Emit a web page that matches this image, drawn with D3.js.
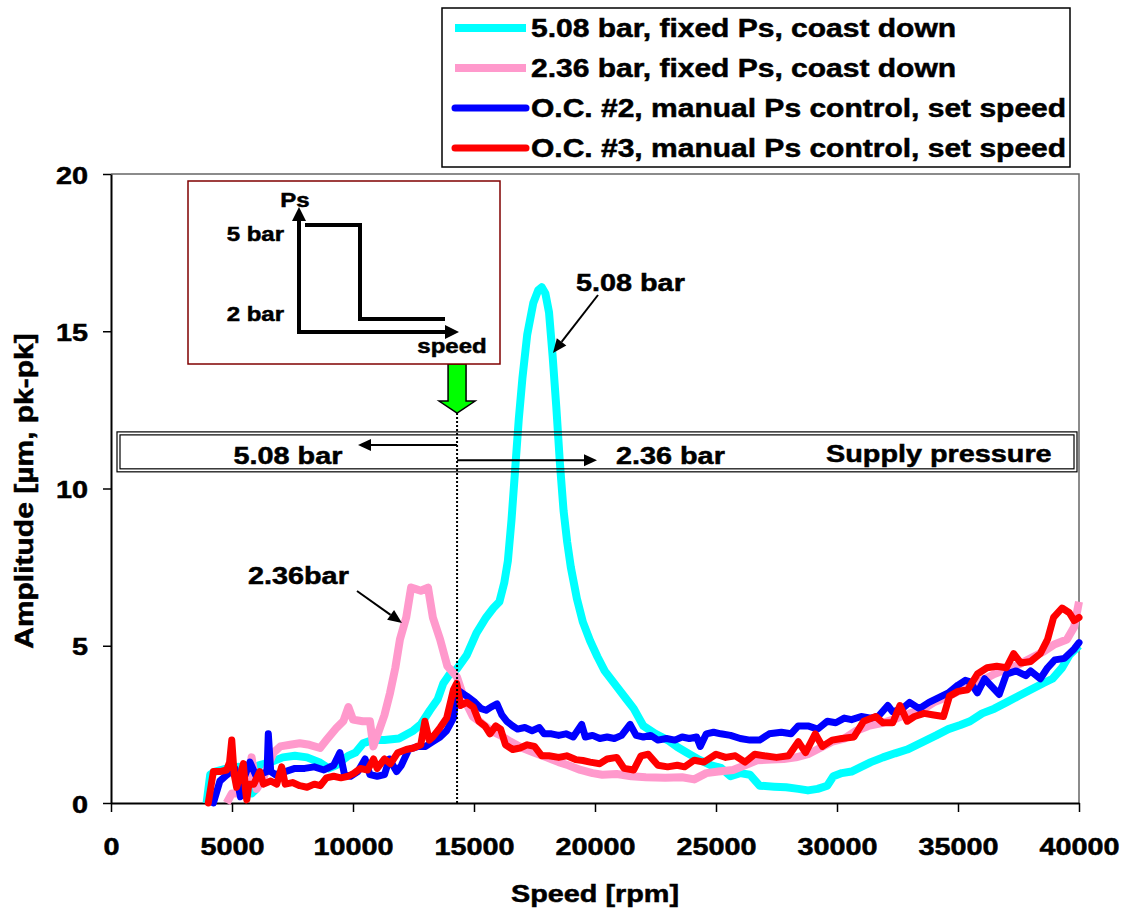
<!DOCTYPE html>
<html>
<head>
<meta charset="utf-8">
<script src="https://cdn.jsdelivr.net/npm/d3@7"></script>
<style>
body { margin: 0; background: #fff; }
text { font-family: "Liberation Sans", Arial, sans-serif; font-weight: bold; fill: #000; stroke: #000; stroke-width: 0.5px; }
</style>
</head>
<body>
<div id="chart"></div>
<script>
// values (speed in rpm, amplitude in um pk-pk)
const cyanSpeed = [3950, 4100, 4300, 4800, 5300, 5700, 5810, 5950, 6100, 6600, 7100, 7600, 8100, 8600, 9000, 9300, 9800, 10100, 10420, 10800, 11300, 11900, 12490, 12800, 13180, 13500, 13730, 14000, 14280, 14700, 15100, 15500, 15800, 16050, 16250, 16400, 16550, 16700, 16850, 17000, 17200, 17450, 17650, 17800, 17950, 18100, 18250, 18400, 18550, 18700, 18850, 19000, 19250, 19500, 19800, 20100, 20400, 20900, 21300, 21600, 22000, 22500, 23000, 23400, 23800, 24300, 24800, 25200, 25600, 26000, 26400, 26800, 27400, 27900, 28400, 28800, 29200, 29600, 29850, 30200, 30600, 31000, 31400, 31900, 32400, 32900, 33300, 33700, 34100, 34600, 35100, 35500, 36000, 36500, 37000, 37500, 38000, 38500, 38900, 39300, 39600, 40000];
const cyanAmp = [0, 0.9, 1.0, 1.1, 1.15, 1.1, 0.3, 0.4, 1.2, 1.3, 1.45, 1.5, 1.45, 1.3, 1.1, 1.2, 1.5, 1.6, 1.9, 2.0, 2.0, 2.05, 2.3, 2.5, 2.95, 3.3, 3.8, 4.1, 4.25, 4.7, 5.4, 5.9, 6.2, 6.4, 7.0, 7.7, 9.0, 10.6, 12.2, 13.5, 14.9, 15.9, 16.3, 16.4, 16.2, 15.6, 14.2, 12.6, 10.8, 9.3, 8.3, 7.5, 6.5, 5.75, 5.15, 4.65, 4.2, 3.7, 3.3, 3.0, 2.45, 2.2, 2.0, 1.78, 1.6, 1.38, 1.2, 1.12, 0.85, 0.95, 0.9, 0.55, 0.52, 0.5, 0.45, 0.4, 0.45, 0.55, 0.85, 0.95, 1.0, 1.15, 1.3, 1.45, 1.58, 1.7, 1.85, 2.0, 2.15, 2.35, 2.48, 2.6, 2.85, 3.0, 3.2, 3.4, 3.6, 3.8, 3.95, 4.3, 4.7, 5.0];

const pinkSpeed = [4780, 4990, 5400, 5610, 5810, 6020, 6300, 6500, 6710, 7000, 7400, 7800, 8200, 8640, 8900, 9330, 9600, 9810, 10000, 10400, 10700, 10840, 11120, 11300, 11530, 11750, 11940, 12200, 12400, 12600, 12800, 13100, 13300, 13600, 13900, 14300, 14600, 14950, 15300, 15700, 16100, 16500, 17000, 17500, 18000, 18500, 18900, 19400, 19900, 20300, 20900, 21500, 22100, 22900, 23600, 24100, 24600, 25100, 25700, 26200, 26700, 27300, 27800, 28300, 28800, 29300, 29800, 30300, 30800, 31300, 31900, 32500, 33000, 33500, 34000, 34500, 35000, 35500, 36000, 36500, 37000, 37500, 38000, 38500, 39000, 39500, 39800, 40000];
const pinkAmp = [0, 0.3, 0.3, 0.3, 1.45, 0.45, 0.8, 1.2, 1.6, 1.8, 1.85, 1.9, 1.85, 1.75, 2.0, 2.4, 2.6, 3.05, 2.65, 2.6, 2.6, 1.8, 2.4, 2.8, 3.5, 4.3, 5.2, 5.9, 6.85, 6.8, 6.75, 6.85, 5.9, 5.2, 4.35, 4.0, 3.3, 2.75, 2.55, 2.3, 2.15, 1.95, 1.75, 1.6, 1.45, 1.3, 1.2, 1.05, 0.95, 0.9, 0.92, 0.85, 0.82, 0.8, 0.82, 0.75, 0.95, 1.0, 1.05, 1.2, 1.36, 1.38, 1.4, 1.45, 1.55, 1.75, 1.95, 2.05, 2.3, 2.45, 2.55, 2.7, 2.85, 2.95, 3.2, 3.35, 3.55, 3.7, 3.9, 4.1, 4.25, 4.4, 4.6, 4.8, 5.05, 5.2, 5.6, 6.4];

const blueSpeed = [4230, 4500, 4800, 5120, 5350, 5500, 5740, 6000, 6300, 6450, 6500, 6600, 6800, 7200, 7600, 8000, 8400, 8800, 9200, 9460, 9650, 9900, 10200, 10500, 10700, 11000, 11300, 11500, 11800, 12000, 12300, 12700, 13000, 13300, 13600, 13870, 14150, 14300, 14700, 15040, 15300, 15500, 15700, 15950, 16150, 16350, 16600, 16800, 17100, 17400, 17700, 17900, 18200, 18500, 18800, 19100, 19450, 19600, 19900, 20200, 20500, 20800, 21100, 21450, 21700, 22000, 22300, 22600, 22950, 23300, 23600, 23900, 24200, 24350, 24600, 24900, 25200, 25600, 26000, 26400, 26800, 27200, 27700, 28100, 28400, 28800, 29200, 29600, 29950, 30300, 30600, 31000, 31400, 31700, 32100, 32300, 32700, 33000, 33400, 33800, 34200, 34600, 35000, 35300, 35500, 35800, 36100, 36400, 36700, 37000, 37400, 37800, 38000, 38400, 38700, 39000, 39400, 39800, 40000];
const blueAmp = [0, 0.7, 0.9, 1.1, 0.2, 0.8, 1.3, 0.85, 0.95, 1.0, 2.2, 1.0, 0.9, 1.0, 1.1, 1.1, 1.15, 1.05, 1.2, 1.6, 0.9, 0.85, 1.0, 1.4, 0.9, 0.85, 0.9, 1.4, 1.0, 1.2, 1.7, 1.8, 1.8, 1.95, 2.1, 2.3, 2.7, 3.6, 3.4, 3.2, 3.0, 2.95, 3.05, 3.15, 2.8, 2.6, 2.45, 2.35, 2.4, 2.3, 2.4, 2.2, 2.2, 2.15, 2.2, 2.1, 2.5, 2.1, 2.15, 2.05, 2.1, 2.05, 2.15, 2.5, 2.15, 2.1, 2.15, 2.0, 2.05, 2.0, 2.1, 2.05, 2.1, 1.8, 2.2, 2.25, 2.2, 2.15, 2.05, 2.0, 2.0, 2.2, 2.25, 2.2, 2.45, 2.45, 2.35, 2.6, 2.55, 2.7, 2.65, 2.75, 2.7, 2.75, 3.1, 2.9, 3.0, 3.2, 3.0, 3.2, 3.35, 3.5, 3.75, 3.9, 3.85, 3.5, 3.95, 3.7, 3.45, 4.1, 4.2, 4.05, 4.2, 3.95, 4.3, 4.55, 4.6, 4.9, 5.1];

const redSpeed = [4020, 4230, 4500, 4780, 4900, 4990, 5090, 5190, 5350, 5470, 5560, 5610, 5700, 5900, 6150, 6300, 6600, 6850, 7050, 7200, 7500, 7800, 8100, 8400, 8650, 8900, 9200, 9500, 9800, 10050, 10300, 10600, 10850, 11000, 11300, 11550, 11850, 12200, 12500, 12800, 12970, 13150, 13300, 13600, 13870, 14150, 14280, 14450, 14700, 14970, 15200, 15450, 15660, 15900, 16100, 16300, 16600, 16900, 17200, 17500, 17800, 18100, 18500, 18830, 19200, 19500, 19800, 20200, 20500, 20900, 21200, 21600, 21900, 22200, 22600, 23000, 23400, 23700, 24100, 24500, 25000, 25400, 25800, 26200, 26600, 27000, 27500, 28000, 28400, 28700, 29100, 29400, 29800, 30200, 30700, 31100, 31600, 31900, 32300, 32600, 32900, 33200, 33600, 34000, 34400, 34650, 35000, 35400, 35800, 36200, 36600, 37000, 37300, 37600, 38000, 38400, 38700, 38950, 39300, 39600, 39800, 40000];
const redAmp = [0, 1.0, 1.0, 1.05, 1.3, 2.0, 0.9, 0.5, 0.9, 1.25, 0.4, 0.1, 0.6, 0.6, 1.0, 0.6, 0.7, 0.6, 1.15, 0.6, 0.65, 0.55, 0.5, 0.6, 0.55, 0.8, 0.85, 0.8, 0.85, 0.95, 1.1, 1.05, 1.4, 1.1, 1.4, 1.25, 1.6, 1.7, 1.75, 1.85, 2.6, 2.0, 2.1, 2.4, 2.7, 3.6, 3.8, 3.1, 3.2, 3.05, 2.6, 2.45, 2.2, 2.45, 2.35, 1.85, 1.7, 1.75, 1.85, 1.8, 1.5, 1.5, 1.45, 1.5, 1.38, 1.35, 1.3, 1.25, 1.4, 1.45, 1.1, 1.05, 1.5, 1.55, 1.2, 1.15, 1.2, 1.15, 1.36, 1.3, 1.55, 1.45, 1.5, 1.3, 1.55, 1.5, 1.45, 1.5, 1.95, 1.6, 2.2, 1.8, 2.0, 2.05, 2.1, 2.6, 2.75, 2.55, 2.55, 3.1, 2.6, 2.75, 2.85, 2.8, 2.75, 3.4, 3.55, 3.6, 4.1, 4.3, 4.35, 4.3, 4.75, 4.45, 4.5, 4.75, 5.2, 5.9, 6.2, 6.05, 5.8, 5.9];

const seriesNames = ["5.08 bar, fixed Ps, coast down", "2.36 bar, fixed Ps, coast down", "O.C. #2, manual Ps control, set speed", "O.C. #3, manual Ps control, set speed"];
const seriesColors = ["#00FFFF", "#FF99CC", "#0000FF", "#FF0000"];
const xTicks = [0, 5000, 10000, 15000, 20000, 25000, 30000, 35000, 40000];
const yTicks = [0, 5, 10, 15, 20];
const switchSpeed = 14300; // where supply pressure is switched

const width = 1128, height = 918;

const svg = d3.select("#chart").append("svg")
    .attr("width", width)
    .attr("height", height);

const x = d3.scaleLinear().domain([0, 40000]).range([111, 1079]);
const y = d3.scaleLinear().domain([0, 20]).range([803, 174]);

// bold text, a bit wider than the font's own width like in the original
function label(txt, tx, ty, size, anchor, rot) {
    return svg.append("text")
        .attr("transform", `translate(${tx},${ty})` + (rot ? ` rotate(${rot})` : "") + " scale(1.2,1)")
        .attr("text-anchor", anchor || "start")
        .style("font-size", size + "px")
        .text(txt);
}

function arrow(x1, y1, x2, y2, w, len, half) {
    const a = Math.atan2(y2 - y1, x2 - x1);
    const bx = x2 - len * Math.cos(a), by = y2 - len * Math.sin(a);
    svg.append("line")
        .attr("x1", x1).attr("y1", y1).attr("x2", bx).attr("y2", by)
        .attr("stroke", "#000").attr("stroke-width", w);
    svg.append("path")
        .attr("d", `M${x2},${y2}L${bx + half * Math.sin(a)},${by - half * Math.cos(a)}L${bx - half * Math.sin(a)},${by + half * Math.cos(a)}Z`)
        .attr("fill", "#000");
}

// plot frame (top and right)
svg.append("path")
    .attr("d", `M${x(0)},${y(20)}H${x(40000)}V${y(0)}`)
    .attr("fill", "none")
    .attr("stroke", "#666")
    .attr("stroke-width", 1.5);

// axes
const xAxis = svg.append("g")
    .attr("transform", `translate(0,${y(0)})`)
    .call(d3.axisBottom(x).tickValues(xTicks).tickSize(9).tickSizeOuter(0).tickFormat(d3.format("d")));
xAxis.selectAll("text")
    .attr("y", 0).attr("dy", 0)
    .attr("transform", "translate(0,52) scale(1.2,1)")
    .style("font-size", "24px");

const yAxis = svg.append("g")
    .attr("transform", `translate(${x(0)},0)`)
    .call(d3.axisLeft(y).tickValues(yTicks).tickSize(8).tickSizeOuter(0));
yAxis.selectAll("text")
    .attr("x", 0).attr("dy", 0)
    .attr("transform", "translate(-23,9) scale(1.2,1)")
    .style("font-size", "24px");

svg.selectAll(".domain").attr("stroke", "#000").attr("stroke-width", 2);
svg.selectAll(".tick line").attr("stroke", "#000").attr("stroke-width", 1.5);
svg.selectAll(".tick text")
    .style("font-family", "'Liberation Sans', Arial, sans-serif")
    .style("font-weight", "bold")
    .attr("fill", "#000")
    .attr("stroke", "#000")
    .attr("stroke-width", 0.5);

label("Speed [rpm]", 595, 902, 24, "middle");
label("Amplitude [µm, pk-pk]", 33, 491, 25, "middle", -90);

// curves
const line = d3.line()
    .x(d => x(d[0]))
    .y(d => y(d[1]));

const curves = [
    d3.zip(cyanSpeed, cyanAmp),
    d3.zip(pinkSpeed, pinkAmp),
    d3.zip(blueSpeed, blueAmp),
    d3.zip(redSpeed, redAmp)
];
const widths = [8, 8, 7, 7];

curves.forEach((c, i) => {
    svg.append("path")
        .datum(c)
        .attr("d", line)
        .attr("fill", "none")
        .attr("stroke", seriesColors[i])
        .attr("stroke-width", widths[i])
        .attr("stroke-linejoin", "round")
        .attr("stroke-linecap", i > 1 ? "round" : "butt");
});

// switch speed marker
const sx = x(switchSpeed);
svg.append("line")
    .attr("x1", sx).attr("x2", sx)
    .attr("y1", 413).attr("y2", y(0))
    .attr("stroke", "#000")
    .attr("stroke-width", 2)
    .attr("stroke-dasharray", "2,2");

svg.append("path")
    .attr("d", `M${sx - 9},364V401H${sx - 18}L${sx},413L${sx + 18},401H${sx + 9}V364Z`)
    .attr("fill", "#00FF00")
    .attr("stroke", "#000")
    .attr("stroke-width", 1.5);

// supply pressure band
svg.append("rect")
    .attr("x", 117).attr("y", y(11.8))
    .attr("width", 960).attr("height", y(10.53) - y(11.8))
    .attr("fill", "none").attr("stroke", "#000").attr("stroke-width", 1.2);
svg.append("rect")
    .attr("x", 120).attr("y", y(11.8) + 3)
    .attr("width", 954).attr("height", y(10.53) - y(11.8) - 6)
    .attr("fill", "none").attr("stroke", "#000").attr("stroke-width", 1.2);

arrow(sx, y(11.38), 358, y(11.38), 2, 13, 6);
arrow(sx, y(10.9), 597, y(10.9), 2, 13, 6);
label("5.08 bar", 288, 464, 24, "middle");
label("2.36 bar", 616, 464, 24, "start");
label("Supply pressure", 826, 462, 24, "start");

// peak annotations
label("5.08 bar", 576, 291, 24, "start");
arrow(598, 295, 553, 353, 2, 14, 6);
label("2.36bar", 248, 584, 24, "start");
arrow(357, 591, 402, 623, 2, 14, 6);

// inset schematic of the supply pressure schedule
svg.append("rect")
    .attr("x", 188).attr("y", 181)
    .attr("width", 312).attr("height", 183)
    .attr("fill", "#fff")
    .attr("stroke", "#800000")
    .attr("stroke-width", 1.5);
arrow(299, 333, 299, 207, 4, 14, 7);
arrow(297, 332, 459, 332, 4, 14, 7);
svg.append("path")
    .attr("d", "M305,225H360V319H445")
    .attr("fill", "none")
    .attr("stroke", "#000")
    .attr("stroke-width", 4);
label("Ps", 295, 207, 20, "middle");
label("5 bar", 284, 241, 20, "end");
label("2 bar", 284, 321, 20, "end");
label("speed", 452, 353, 20, "middle");

// legend
svg.append("rect")
    .attr("x", 442).attr("y", 8)
    .attr("width", 628).attr("height", 159)
    .attr("fill", "#fff")
    .attr("stroke", "#000")
    .attr("stroke-width", 1.5);

seriesNames.forEach((name, i) => {
    const ly = 28 + i * 40;
    svg.append("line")
        .attr("x1", 455).attr("x2", 526)
        .attr("y1", ly).attr("y2", ly)
        .attr("stroke", seriesColors[i])
        .attr("stroke-width", widths[i])
        .attr("stroke-linecap", i > 1 ? "round" : "butt");
    label(name, 531, ly + 9, 25, "start");
});
</script>
</body>
</html>
